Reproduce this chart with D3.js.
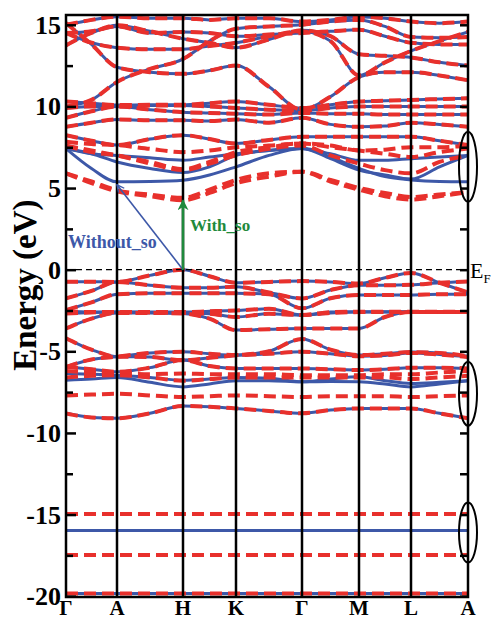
<!DOCTYPE html>
<html>
<head>
<meta charset="utf-8">
<script src="https://cdn.jsdelivr.net/npm/d3@7"></script>
<style>
  body { margin: 0; background: #fff; }
  text { font-family: "Liberation Serif", "DejaVu Serif", serif; }
</style>
</head>
<body>
<div id="chart"></div>
<script>
// high-symmetry path
const kLabels = ["Γ", "A", "H", "K", "Γ", "M", "L", "A"];
const kPath = [0, 0.51, 1.17, 1.70, 2.36, 2.93, 3.45, 4.02];
const yTicks = [15, 10, 5, 0, -5, -10, -15, -20];
const yMinor = [12.5, 7.5, 2.5, -2.5, -7.5, -12.5, -17.5];

// energies (eV) sampled at: Γ, mid, A, mid, H, mid, K, mid, Γ, mid, M, mid, L, mid, A
// bands where with/without SO coincide
const bandsShared = [
  [-19.83, -19.83, -19.83, -19.83, -19.83, -19.83, -19.83, -19.83, -19.83, -19.83, -19.83, -19.83, -19.83, -19.83, -19.83],
  [-8.8, -9.05, -9.1, -8.8, -8.35, -8.4, -8.5, -8.65, -8.8, -8.6, -8.5, -8.5, -8.5, -8.8, -9.1],
  [-5.95, -6.1, -6.26, -6.0, -5.54, -5.9, -6.05, -6.05, -6.05, -6.1, -6.15, -6.1, -6.0, -6.0, -6.05],
  [-5.95, -5.5, -5.33, -5.1, -5.03, -5.15, -5.23, -5.15, -5.03, -5.15, -5.3, -5.25, -5.1, -5.2, -5.35],
  [-4.2, -4.9, -5.33, -5.35, -5.55, -5.4, -5.25, -5.0, -4.24, -4.9, -5.23, -5.15, -5.05, -5.1, -5.3],
  [-3.6, -3.0, -2.65, -2.65, -2.68, -3.0, -3.7, -3.65, -3.6, -3.6, -3.6, -2.9, -2.6, -2.6, -2.6],
  [-2.68, -2.62, -2.6, -2.62, -2.65, -2.7, -2.9, -2.7, -2.78, -2.65, -2.6, -2.6, -2.6, -2.6, -2.6],
  [-2.55, -2.6, -2.6, -2.6, -2.6, -2.55, -2.5, -2.4, -2.78, -2.6, -2.57, -2.57, -2.57, -2.57, -2.6],
  [-2.47, -2.0, -1.5, -1.45, -1.45, -1.45, -1.45, -1.5, -2.37, -1.75, -1.55, -1.55, -1.55, -1.5, -1.5],
  [-1.76, -1.3, -0.75, -0.95, -1.1, -1.1, -1.05, -1.4, -1.76, -1.25, -0.95, -0.95, -0.93, -0.8, -0.72],
  [-0.74, -0.74, -0.75, -0.35, 0.0, -0.4, -0.8, -0.75, -0.7, -0.75, -0.85, -0.5, -0.2, -0.8, -1.4],
  [8.24, 7.9, 7.63, 8.0, 8.24, 8.0, 7.73, 7.95, 8.14, 8.14, 8.14, 8.14, 8.14, 7.9, 7.63],
  [8.75, 9.0, 9.2, 9.15, 9.15, 9.1, 9.2, 9.0, 9.3, 8.9, 8.75, 8.8, 9.0, 8.9, 8.75],
  [9.3, 9.7, 10.0, 9.8, 9.65, 9.6, 9.55, 9.5, 9.6, 9.55, 9.55, 9.5, 9.5, 9.5, 9.5],
  [9.9, 10.0, 10.0, 10.05, 10.06, 10.0, 9.9, 9.8, 9.75, 9.9, 10.0, 10.0, 10.0, 10.0, 10.0],
  [10.3, 10.2, 10.08, 10.1, 10.1, 10.2, 10.3, 10.1, 9.9, 10.1, 10.3, 10.35, 10.4, 10.45, 10.5],
  [10.0, 10.4, 11.5, 12.3, 12.9, 14.0, 14.76, 14.9, 15.0, 15.2, 15.3, 14.9, 14.25, 14.2, 14.25],
  [15.1, 13.8, 12.4, 12.1, 12.0, 12.2, 12.5, 11.2, 9.8, 10.6, 11.8, 12.1, 12.1, 11.9, 11.6],
  [13.74, 14.5, 14.97, 14.6, 14.15, 13.9, 13.6, 14.1, 14.66, 14.3, 13.2, 13.1, 13.0, 12.7, 12.5],
  [14.5, 13.9, 13.6, 13.5, 13.5, 13.7, 13.9, 14.3, 14.6, 14.0, 11.9, 12.7, 13.4, 14.0, 14.56],
  [15.0, 15.3, 15.5, 15.4, 15.4, 15.3, 15.4, 15.4, 15.2, 15.3, 15.5, 15.4, 15.2, 15.1, 15.2],
  [14.5, 14.6, 14.9, 14.5, 14.56, 14.5, 14.3, 14.4, 14.5, 14.6, 14.7, 14.3, 13.9, 13.8, 13.8]
];

// without spin-orbit only
const bandsNoSO = [
  [-15.98, -15.98, -15.98, -15.98, -15.98, -15.98, -15.98, -15.98, -15.98, -15.98, -15.98, -15.98, -15.98, -15.98, -15.98],
  [-6.36, -6.4, -6.46, -6.6, -6.77, -6.7, -6.6, -6.65, -6.87, -6.7, -6.56, -6.8, -6.97, -6.9, -6.8],
  [-6.77, -6.7, -6.6, -6.9, -7.18, -7.0, -6.8, -6.8, -6.87, -6.85, -6.87, -7.0, -7.18, -7.0, -6.8],
  [7.42, 6.2, 5.38, 5.4, 5.48, 5.8, 6.3, 7.0, 7.42, 6.9, 6.2, 5.7, 5.5, 5.4, 5.38],
  [7.42, 7.1, 7.0, 6.85, 6.7, 6.9, 7.1, 7.3, 7.42, 7.1, 6.7, 6.7, 6.8, 6.9, 7.0],
  [7.42, 7.1, 6.6, 6.2, 5.95, 6.3, 7.0, 7.3, 7.42, 6.8, 6.1, 5.8, 5.55, 6.3, 7.0]
];

// with spin-orbit only
const bandsSO = [
  [-14.96, -14.96, -14.96, -14.96, -14.96, -14.96, -14.96, -14.96, -14.96, -14.96, -14.96, -14.96, -14.96, -14.96, -14.96],
  [-17.47, -17.47, -17.47, -17.47, -17.47, -17.47, -17.47, -17.47, -17.47, -17.47, -17.47, -17.47, -17.47, -17.47, -17.47],
  [-6.2, -6.3, -6.35, -6.4, -6.36, -6.4, -6.4, -6.4, -6.46, -6.46, -6.46, -6.4, -6.4, -6.3, -6.2],
  [-6.6, -6.5, -6.46, -6.6, -6.8, -6.7, -6.6, -6.6, -6.6, -6.6, -6.6, -6.6, -6.7, -6.6, -6.5],
  [-7.7, -7.65, -7.6, -7.7, -7.8, -7.75, -7.7, -7.75, -7.8, -7.75, -7.75, -7.75, -7.8, -7.75, -7.7],
  [5.9, 5.4, 4.86, 4.6, 4.4, 4.9, 5.5, 5.9, 6.0, 5.5, 5.0, 4.7, 4.45, 4.6, 4.76],
  [5.9, 5.3, 4.8, 4.5, 4.25, 4.7, 5.3, 5.7, 6.0, 5.4, 4.9, 4.5, 4.3, 4.5, 4.76],
  [7.83, 7.7, 7.63, 7.4, 7.2, 7.3, 7.5, 7.6, 7.73, 7.5, 7.3, 7.1, 6.9, 7.2, 7.42],
  [7.6, 7.2, 7.0, 6.5, 6.1, 6.5, 7.0, 7.4, 7.6, 7.0, 6.5, 6.1, 5.9, 6.6, 7.0],
  [7.6, 7.3, 7.0, 6.6, 6.15, 6.6, 7.2, 7.5, 7.73, 7.6, 7.3, 7.35, 7.5, 7.5, 7.6]
];

// gap annotations: [k index, energy]
const gapNoSO = [[2, 0.0], [1, 5.2]];
const gapSO = [[2, 0.0], [2, 4.25]];
const ellipseE = [6.3, -7.6, -16.1];

const width = 493, height = 620;
const margin = { left: 66, right: 25, top: 15, bottom: 23 };

const blue = "#3d58a8", red = "#e8302c", green = "#1f8a3c";

const svg = d3.select("#chart").append("svg")
  .attr("width", width).attr("height", height);

const x = d3.scaleLinear().domain([0, kPath[kPath.length - 1]])
  .range([margin.left, width - margin.right]);
const y = d3.scaleLinear().domain([-20.05, 15.6])
  .range([height - margin.bottom, margin.top]);

// k value for sample i (even: high-symmetry point, odd: midpoint)
function kAt(i) {
  return i % 2 === 0 ? kPath[i / 2] : (kPath[(i - 1) / 2] + kPath[(i + 1) / 2]) / 2;
}

const line = d3.line()
  .x((d, i) => x(kAt(i)))
  .y(d => y(d))
  .curve(d3.curveMonotoneX);

svg.append("clipPath").attr("id", "clip")
  .append("rect")
  .attr("x", x(0)).attr("y", y(15.6))
  .attr("width", x(kPath[7]) - x(0)).attr("height", y(-20.05) - y(15.6));

const plot = svg.append("g").attr("clip-path", "url(#clip)");

// blue (without SO)
plot.selectAll(".noso")
  .data(bandsShared.concat(bandsNoSO))
  .enter().append("path")
  .attr("class", "noso")
  .attr("d", line)
  .attr("fill", "none")
  .attr("stroke", blue)
  .attr("stroke-width", 3);

// red dashed (with SO)
plot.selectAll(".so")
  .data(bandsShared.concat(bandsSO))
  .enter().append("path")
  .attr("class", "so")
  .attr("d", line)
  .attr("fill", "none")
  .attr("stroke", red)
  .attr("stroke-width", 4)
  .attr("stroke-dasharray", "12,6");

// Fermi level
svg.append("line")
  .attr("x1", x(0)).attr("x2", x(kPath[7]))
  .attr("y1", y(0)).attr("y2", y(0))
  .attr("stroke", "#000").attr("stroke-width", 1.3)
  .attr("stroke-dasharray", "6,4");

// high-symmetry verticals
svg.selectAll(".kline")
  .data(kPath.slice(1, -1))
  .enter().append("line")
  .attr("x1", d => x(d)).attr("x2", d => x(d))
  .attr("y1", y(15.6)).attr("y2", y(-20.05))
  .attr("stroke", "#000").attr("stroke-width", 2.5);

// frame
svg.append("rect")
  .attr("x", x(0)).attr("y", y(15.6))
  .attr("width", x(kPath[7]) - x(0)).attr("height", y(-20.05) - y(15.6))
  .attr("fill", "none").attr("stroke", "#000").attr("stroke-width", 2.5);

// y axis (left) with inward ticks
const yAxisL = svg.append("g")
  .attr("transform", `translate(${x(0)},0)`)
  .call(d3.axisRight(y).tickValues(yTicks).tickSize(10).tickFormat(""));
yAxisL.select(".domain").remove();
yAxisL.selectAll("line").attr("stroke-width", 2.5);

const yMinorL = svg.append("g")
  .attr("transform", `translate(${x(0)},0)`)
  .call(d3.axisRight(y).tickValues(yMinor).tickSize(7).tickFormat(""));
yMinorL.select(".domain").remove();
yMinorL.selectAll("line").attr("stroke-width", 2.5);

const yAxisR = svg.append("g")
  .attr("transform", `translate(${x(kPath[7])},0)`)
  .call(d3.axisLeft(y).tickValues(yTicks.concat(yMinor)).tickSize(8).tickFormat(""));
yAxisR.select(".domain").remove();
yAxisR.selectAll("line").attr("stroke-width", 2.5);

// tick labels
svg.selectAll(".ylab")
  .data(yTicks)
  .enter().append("text")
  .attr("x", x(0) - 5)
  .attr("y", d => y(d) + 9)
  .attr("text-anchor", "end")
  .style("font-size", "26px")
  .style("font-weight", "bold")
  .text(d => d);

svg.selectAll(".klab")
  .data(kLabels)
  .enter().append("text")
  .attr("x", (d, i) => x(kPath[i]))
  .attr("y", height - 5)
  .attr("text-anchor", "middle")
  .style("font-size", "21px")
  .style("font-weight", "bold")
  .text(d => d);

// axis title
svg.append("text")
  .attr("transform", `translate(36,${y(-0.95)}) rotate(-90)`)
  .attr("text-anchor", "middle")
  .style("font-size", "33px")
  .style("font-weight", "bold")
  .text("Energy (eV)");

// E_F label
const ef = svg.append("text")
  .attr("x", x(kPath[7]) + 2)
  .attr("y", y(0) + 8)
  .style("font-size", "22px");
ef.append("tspan").text("E");
ef.append("tspan").attr("dy", 5).style("font-size", "13px").text("F");

// ellipses around A
svg.selectAll(".ell")
  .data(ellipseE)
  .enter().append("ellipse")
  .attr("cx", x(kPath[7]))
  .attr("cy", d => y(d))
  .attr("rx", 9)
  .attr("ry", (d, i) => [35, 32, 30][i])
  .attr("fill", "none")
  .attr("stroke", "#000")
  .attr("stroke-width", 2);

// arrow markers
const defs = svg.append("defs");
defs.append("marker").attr("id", "headBlue")
  .attr("viewBox", "0 0 10 10").attr("refX", 9).attr("refY", 5)
  .attr("markerWidth", 9).attr("markerHeight", 9)
  .attr("markerUnits", "userSpaceOnUse")
  .attr("orient", "auto")
  .append("path").attr("d", "M1,1 L9,5 L1,9")
  .attr("fill", "none").attr("stroke", blue).attr("stroke-width", 1.5);
defs.append("marker").attr("id", "headGreen")
  .attr("viewBox", "0 0 10 10").attr("refX", 9).attr("refY", 5)
  .attr("markerWidth", 11).attr("markerHeight", 11)
  .attr("markerUnits", "userSpaceOnUse")
  .attr("orient", "auto")
  .append("path").attr("d", "M0,0 L10,5 L0,10 L3,5 Z")
  .attr("fill", green);

svg.append("line")
  .attr("x1", x(kPath[gapNoSO[0][0]])).attr("y1", y(gapNoSO[0][1]))
  .attr("x2", x(kPath[gapNoSO[1][0]])).attr("y2", y(gapNoSO[1][1]))
  .attr("stroke", blue).attr("stroke-width", 1.6)
  .attr("marker-end", "url(#headBlue)");

svg.append("line")
  .attr("x1", x(kPath[gapSO[0][0]])).attr("y1", y(gapSO[0][1]))
  .attr("x2", x(kPath[gapSO[1][0]])).attr("y2", y(gapSO[1][1]))
  .attr("stroke", green).attr("stroke-width", 2.5)
  .attr("marker-end", "url(#headGreen)");

svg.append("text")
  .attr("x", x(0) + 2).attr("y", y(1.3))
  .style("font-size", "18px").style("font-weight", "bold")
  .attr("fill", blue)
  .text("Without_so");

svg.append("text")
  .attr("x", x(kPath[2]) + 7).attr("y", y(2.35))
  .style("font-size", "17px").style("font-weight", "bold")
  .attr("fill", green)
  .text("With_so");
</script>
</body>
</html>
